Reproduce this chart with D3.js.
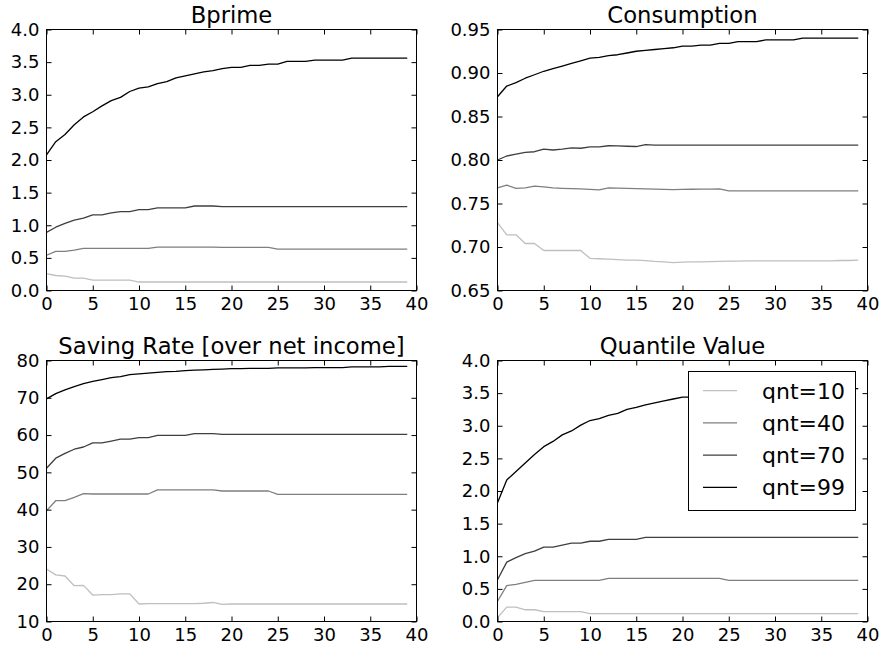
<!DOCTYPE html>
<html>
<head>
<meta charset="utf-8">
<script src="https://cdn.jsdelivr.net/npm/d3@7"></script>
<style>
  body { margin: 0; background: #fff; }
  text { font-family: "DejaVu Sans", sans-serif; fill: #000; }
</style>
</head>
<body>
<div id="chart"></div>
<script>
// periods on the x axis
const periods = d3.range(40);
const quantiles = ["qnt=10", "qnt=40", "qnt=70", "qnt=99"];
const lineColors = ["#bfbfbf", "#7f7f7f", "#3f3f3f", "#000000"];

// Bprime
const bprime10 = [0.26,0.23,0.22,0.19,0.19,0.16,0.16,0.16,0.16,0.16,0.13,0.13,0.13,0.13,0.13,0.13,0.13,0.13,0.13,0.13,
  0.13,0.13,0.13,0.13,0.13,0.13,0.13,0.13,0.13,0.13,0.13,0.13,0.13,0.13,0.13,0.13,0.13,0.13,0.13,0.13];
const bprime40 = [0.54,0.60,0.60,0.62,0.645,0.645,0.645,0.645,0.645,0.645,0.645,0.645,0.665,0.665,0.665,0.665,0.665,0.665,0.665,0.66,
  0.66,0.66,0.66,0.66,0.66,0.635,0.635,0.635,0.635,0.635,0.635,0.635,0.635,0.635,0.635,0.635,0.635,0.635,0.635,0.635];
const bprime70 = [0.89,0.97,1.03,1.08,1.11,1.16,1.16,1.19,1.21,1.21,1.24,1.24,1.265,1.265,1.265,1.265,1.295,1.295,1.295,1.285,
  1.285,1.285,1.285,1.285,1.285,1.285,1.285,1.285,1.285,1.285,1.285,1.285,1.285,1.285,1.285,1.285,1.285,1.285,1.285,1.285];
const bprime99 = [2.08,2.28,2.39,2.54,2.66,2.74,2.83,2.91,2.96,3.05,3.10,3.12,3.17,3.20,3.26,3.29,3.32,3.35,3.37,3.40,
  3.42,3.42,3.45,3.45,3.47,3.47,3.51,3.51,3.51,3.53,3.53,3.53,3.53,3.56,3.56,3.56,3.56,3.56,3.56,3.56];

// Consumption
const cons10 = [0.728,0.714,0.714,0.704,0.704,0.696,0.696,0.696,0.696,0.696,0.687,0.6865,0.686,0.6855,0.685,0.6848,0.6843,0.6835,0.683,0.682,
  0.6825,0.6828,0.683,0.6833,0.6835,0.6837,0.6838,0.684,0.684,0.684,0.684,0.684,0.684,0.684,0.684,0.684,0.684,0.6845,0.6845,0.6848];
const cons40 = [0.768,0.771,0.7675,0.768,0.770,0.769,0.768,0.7675,0.767,0.7667,0.7663,0.7656,0.768,0.7677,0.7673,0.767,0.7667,0.7665,0.7662,0.766,
  0.7662,0.7664,0.7665,0.7666,0.7667,0.7644,0.7644,0.7644,0.7644,0.7644,0.7644,0.7644,0.7644,0.7644,0.7644,0.7644,0.7644,0.7644,0.7644,0.7644];
const cons70 = [0.800,0.8046,0.8068,0.8088,0.8095,0.8126,0.8115,0.8126,0.814,0.8135,0.815,0.815,0.8164,0.8162,0.8158,0.8155,0.8176,0.8172,0.817,0.817,
  0.817,0.817,0.817,0.817,0.817,0.8172,0.8172,0.8172,0.8172,0.8172,0.8172,0.8172,0.8172,0.8172,0.8172,0.8172,0.8172,0.8172,0.8172,0.8172];
const cons99 = [0.8727,0.885,0.889,0.894,0.898,0.902,0.905,0.908,0.911,0.914,0.917,0.918,0.920,0.921,0.923,0.925,0.926,0.927,0.928,0.929,
  0.931,0.931,0.932,0.932,0.934,0.934,0.936,0.936,0.936,0.938,0.938,0.938,0.938,0.940,0.940,0.940,0.940,0.940,0.940,0.940];

// Saving Rate [over net income]
const save10 = [24.1,22.5,22.2,19.6,19.7,17.1,17.2,17.2,17.4,17.4,14.7,14.8,14.8,14.8,14.8,14.8,14.8,14.9,15.1,14.6,
  14.7,14.7,14.7,14.7,14.7,14.7,14.7,14.7,14.7,14.7,14.7,14.7,14.7,14.7,14.7,14.7,14.7,14.7,14.7,14.7];
const save40 = [39.7,42.4,42.4,43.3,44.3,44.2,44.2,44.2,44.2,44.2,44.2,44.2,45.3,45.3,45.3,45.3,45.3,45.3,45.3,45.0,
  45.0,45.0,45.0,45.0,45.0,44.1,44.1,44.1,44.1,44.1,44.1,44.1,44.1,44.1,44.1,44.1,44.1,44.1,44.1,44.1];
const save70 = [51.1,53.8,55.1,56.2,56.8,57.9,57.9,58.4,58.9,58.9,59.3,59.3,59.9,59.9,59.9,59.9,60.4,60.4,60.4,60.2,
  60.2,60.2,60.2,60.2,60.2,60.2,60.2,60.2,60.2,60.2,60.2,60.2,60.2,60.2,60.2,60.2,60.2,60.2,60.2,60.2];
const save99 = [69.7,71.1,72.1,73.0,73.8,74.4,74.9,75.4,75.7,76.2,76.4,76.6,76.8,77.0,77.1,77.3,77.4,77.5,77.6,77.7,
  77.8,77.8,77.9,77.9,77.9,78.0,78.0,78.0,78.0,78.1,78.1,78.1,78.1,78.3,78.3,78.3,78.3,78.4,78.4,78.4];

// Quantile Value
const qv10 = [0.06,0.22,0.22,0.18,0.18,0.15,0.15,0.15,0.15,0.15,0.12,0.12,0.12,0.12,0.12,0.12,0.12,0.12,0.12,0.12,
  0.12,0.12,0.12,0.12,0.12,0.12,0.12,0.12,0.12,0.12,0.12,0.12,0.12,0.12,0.12,0.12,0.12,0.12,0.12,0.12];
const qv40 = [0.31,0.55,0.57,0.60,0.63,0.63,0.63,0.63,0.63,0.63,0.63,0.63,0.66,0.66,0.66,0.66,0.66,0.66,0.66,0.66,
  0.66,0.66,0.66,0.66,0.66,0.63,0.63,0.63,0.63,0.63,0.63,0.63,0.63,0.63,0.63,0.63,0.63,0.63,0.63,0.63];
const qv70 = [0.64,0.91,0.98,1.04,1.08,1.14,1.14,1.17,1.20,1.20,1.23,1.23,1.26,1.26,1.26,1.26,1.29,1.29,1.29,1.29,
  1.29,1.29,1.29,1.29,1.29,1.29,1.29,1.29,1.29,1.29,1.29,1.29,1.29,1.29,1.29,1.29,1.29,1.29,1.29,1.29];
const qv99 = [1.82,2.17,2.30,2.43,2.56,2.68,2.76,2.86,2.92,3.01,3.08,3.11,3.16,3.19,3.25,3.28,3.32,3.35,3.38,3.41,
  3.44,3.44,3.46,3.46,3.48,3.48,3.51,3.51,3.51,3.54,3.54,3.54,3.54,3.57,3.57,3.57,3.57,3.57,3.57,3.57];

const xTicks = [0, 5, 10, 15, 20, 25, 30, 35, 40];
const bprimeTicks = [0, 0.5, 1, 1.5, 2, 2.5, 3, 3.5, 4];
const consTicks = [0.65, 0.70, 0.75, 0.80, 0.85, 0.90, 0.95];
const saveTicks = [10, 20, 30, 40, 50, 60, 70, 80];
const qvTicks = [0, 0.5, 1, 1.5, 2, 2.5, 3, 3.5, 4];

const width = 881, height = 649;
const svg = d3.select("#chart")
  .append("svg")
  .attr("width", width)
  .attr("height", height);

// plot areas: columns [left, right], rows [top, bottom]
const cols = [[46.5, 416.5], [497.5, 867.5]];
const rows = [[29.5, 290.5], [360.5, 621.5]];

const panels = [
  { title: "Bprime", series: [bprime10, bprime40, bprime70, bprime99], ticks: bprimeTicks, fmt: d3.format(".1f"), col: 0, row: 0 },
  { title: "Consumption", series: [cons10, cons40, cons70, cons99], ticks: consTicks, fmt: d3.format(".2f"), col: 1, row: 0 },
  { title: "Saving Rate [over net income]", series: [save10, save40, save70, save99], ticks: saveTicks, fmt: d3.format("d"), col: 0, row: 1 },
  { title: "Quantile Value", series: [qv10, qv40, qv70, qv99], ticks: qvTicks, fmt: d3.format(".1f"), col: 1, row: 1, legend: true }
];

panels.forEach(p => {
  const [x0, x1] = cols[p.col];
  const [y0, y1] = rows[p.row];
  const x = d3.scaleLinear().domain([0, 40]).range([x0, x1]);
  const y = d3.scaleLinear().domain(d3.extent(p.ticks)).range([y1, y0]);

  const g = svg.append("g");

  const line = d3.line()
    .x((d, i) => x(periods[i]))
    .y(d => y(d));

  p.series.forEach((s, i) => {
    g.append("path")
      .datum(s)
      .attr("fill", "none")
      .attr("stroke", lineColors[i])
      .attr("stroke-width", 1.3)
      .attr("stroke-linejoin", "round")
      .attr("d", line);
  });

  // ticks point inward on every side
  const addAxis = (axis, tx, ty, labels) => {
    const a = g.append("g")
      .attr("transform", `translate(${tx},${ty})`)
      .call(axis);
    a.select(".domain").remove();
    a.selectAll("line").attr("stroke", "#000").attr("stroke-width", 1);
    a.selectAll("text")
      .attr("font-family", "DejaVu Sans")
      .attr("font-size", 18)
      .attr("fill", "#000");
    if (!labels) a.selectAll("text").remove();
  };

  addAxis(d3.axisBottom(x).tickValues(xTicks).tickFormat(d3.format("d")).tickSizeInner(-5).tickSizeOuter(0).tickPadding(7), 0, y1, true);
  addAxis(d3.axisTop(x).tickValues(xTicks).tickSizeInner(-5).tickSizeOuter(0), 0, y0, false);
  addAxis(d3.axisLeft(y).tickValues(p.ticks).tickFormat(p.fmt).tickSizeInner(-5).tickSizeOuter(0).tickPadding(7), x0, 0, true);
  addAxis(d3.axisRight(y).tickValues(p.ticks).tickSizeInner(-5).tickSizeOuter(0), x1, 0, false);

  g.append("rect")
    .attr("x", x0)
    .attr("y", y0)
    .attr("width", x1 - x0)
    .attr("height", y1 - y0)
    .attr("fill", "none")
    .attr("stroke", "#000")
    .attr("stroke-width", 1);

  g.append("text")
    .attr("x", (x0 + x1) / 2)
    .attr("y", y0 - 7)
    .attr("text-anchor", "middle")
    .attr("font-size", 22.7)
    .text(p.title);

  if (p.legend) {
    const lg = svg.append("g");
    lg.append("rect")
      .attr("x", 688.5)
      .attr("y", 371.5)
      .attr("width", 167)
      .attr("height", 139)
      .attr("fill", "#fff")
      .attr("stroke", "#000")
      .attr("stroke-width", 1);

    const items = lg.selectAll("g.item")
      .data(quantiles)
      .enter()
      .append("g")
      .attr("class", "item")
      .attr("transform", (d, i) => `translate(0,${390.7 + i * 32.2})`);

    items.append("line")
      .attr("x1", 703)
      .attr("x2", 737)
      .attr("stroke", (d, i) => lineColors[i])
      .attr("stroke-width", 1.3);

    items.append("text")
      .attr("x", 762)
      .attr("y", 8)
      .attr("font-size", 22)
      .text(d => d);
  }
});
</script>
</body>
</html>
